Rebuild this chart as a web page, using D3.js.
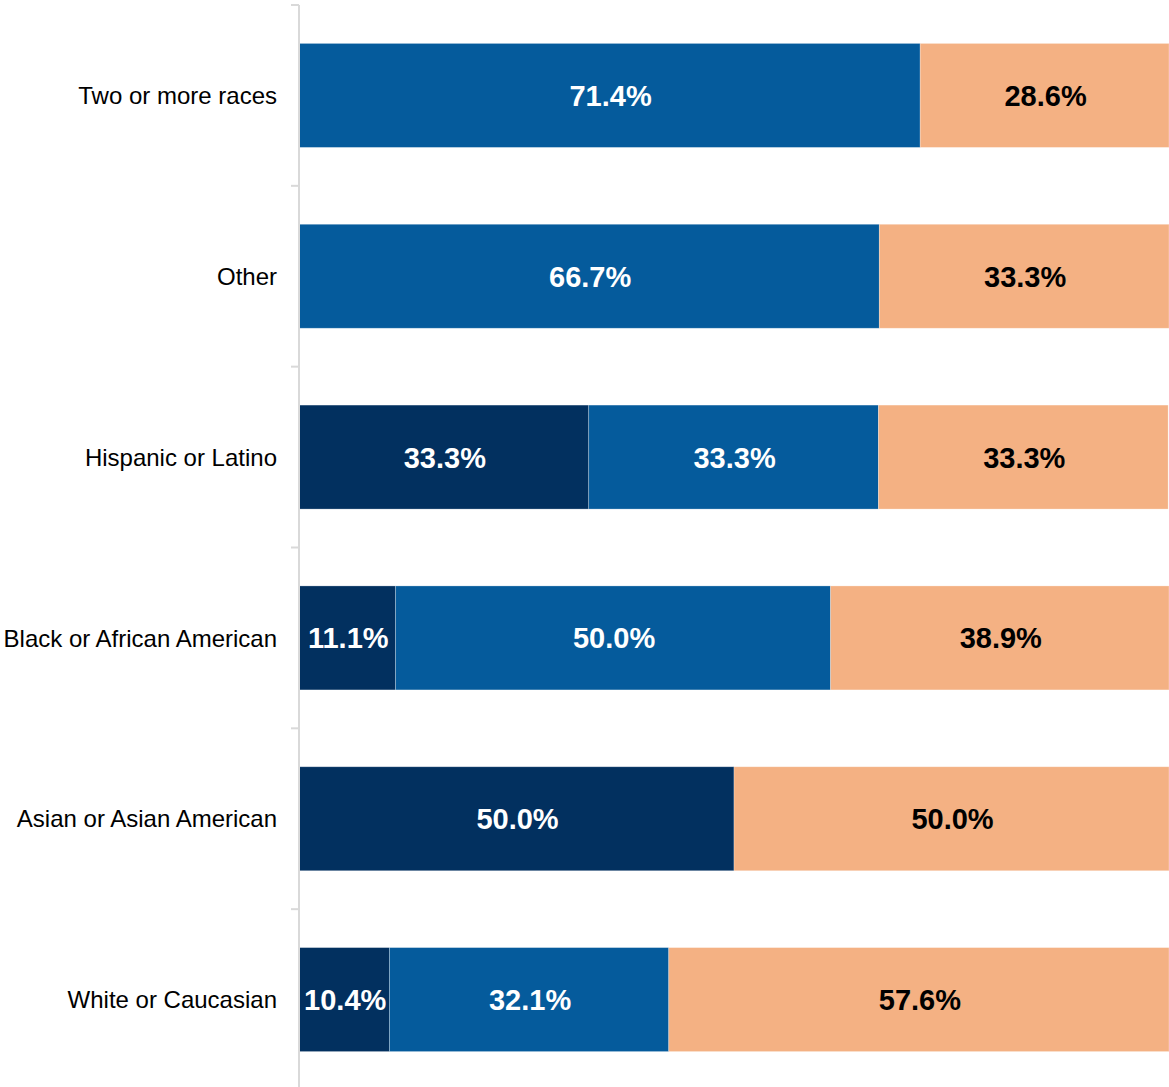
<!DOCTYPE html>
<html>
<head>
<meta charset="utf-8">
<script src="https://cdn.jsdelivr.net/npm/d3@7/dist/d3.min.js"></script>
<style>
  html, body { margin: 0; padding: 0; background: #ffffff; }
  svg { display: block; }
</style>
</head>
<body>
<svg id="chart" width="1169" height="1087"></svg>
<script>
// Race / ethnicity groups, top to bottom
const categories = [
  "Two or more races",
  "Other",
  "Hispanic or Latino",
  "Black or African American",
  "Asian or Asian American",
  "White or Caucasian"
];

// Share (%) of each group in the three segments, left to right
const seriesKeys = ["first", "second", "third"];
const firstValues  = [0, 0, 33.3, 11.1, 50.0, 10.4];
const secondValues = [71.4, 66.7, 33.3, 50.0, 0, 32.1];
const thirdValues  = [28.6, 33.3, 33.3, 38.9, 50.0, 57.6];

const seriesColors = ["#02305f", "#055b9c", "#f4b183"];
const labelColors  = ["#ffffff", "#ffffff", "#000000"];

const rows = categories.map((c, i) => ({
  category: c,
  first: firstValues[i],
  second: secondValues[i],
  third: thirdValues[i]
}));

const width = 1169, height = 1087;
const plotLeft = 299, plotRight = 1169, plotTop = 5, plotBottom = 1090;

const svg = d3.select("#chart");

const x = d3.scaleLinear().domain([0, 100]).range([plotLeft, plotRight]);
const y = d3.scaleBand()
  .domain(categories)
  .range([plotTop, plotBottom])
  .paddingInner(0.425)
  .paddingOuter(0.2125);

const stacked = d3.stack().keys(seriesKeys)(rows);

// Bars
const layers = svg.append("g").selectAll("g")
  .data(stacked)
  .join("g")
  .attr("fill", (d, i) => seriesColors[i]);

layers.selectAll("rect")
  .data(d => d.filter(s => s[1] - s[0] > 0))
  .join("rect")
  .attr("x", d => x(d[0]))
  .attr("y", d => y(d.data.category))
  .attr("width", d => Math.min(x(d[1]), plotRight) - x(d[0]))
  .attr("height", y.bandwidth())
  .attr("stroke", "rgba(255,255,255,0.35)")
  .attr("stroke-width", 0.75);

// Value labels centred in each segment
stacked.forEach((layer, i) => {
  svg.append("g").selectAll("text")
    .data(layer.filter(s => s[1] - s[0] > 0))
    .join("text")
    .attr("x", d => (x(d[0]) + Math.min(x(d[1]), plotRight)) / 2 + 1)
    .attr("y", d => y(d.data.category) + y.bandwidth() / 2)
    .attr("dy", "0.36em")
    .attr("text-anchor", "middle")
    .attr("font-family", "Arial, 'Liberation Sans', sans-serif")
    .attr("font-weight", "bold")
    .attr("font-size", "29px")
    .attr("fill", labelColors[i])
    .text(d => (d[1] - d[0]).toFixed(1) + "%");
});

// Category axis: vertical rule with ticks between bands
const axis = svg.append("g");
axis.append("line")
  .attr("x1", plotLeft).attr("x2", plotLeft)
  .attr("y1", plotTop).attr("y2", plotBottom)
  .attr("stroke", "#d9d9d9").attr("stroke-width", 2);

const gap = (y.step() - y.bandwidth()) / 2;
const tickYs = categories.map(c => y(c) - gap).concat([plotBottom]);
axis.selectAll(".tick")
  .data(tickYs)
  .join("line")
  .attr("class", "tick")
  .attr("x1", plotLeft - 8).attr("x2", plotLeft)
  .attr("y1", d => d).attr("y2", d => d)
  .attr("stroke", "#d9d9d9").attr("stroke-width", 2);

axis.selectAll("text")
  .data(categories)
  .join("text")
  .attr("x", plotLeft - 22)
  .attr("y", d => y(d) + y.bandwidth() / 2)
  .attr("dy", "0.36em")
  .attr("text-anchor", "end")
  .attr("font-family", "Arial, 'Liberation Sans', sans-serif")
  .attr("font-size", "24px")
  .attr("fill", "#000000")
  .text(d => d);
</script>
</body>
</html>
